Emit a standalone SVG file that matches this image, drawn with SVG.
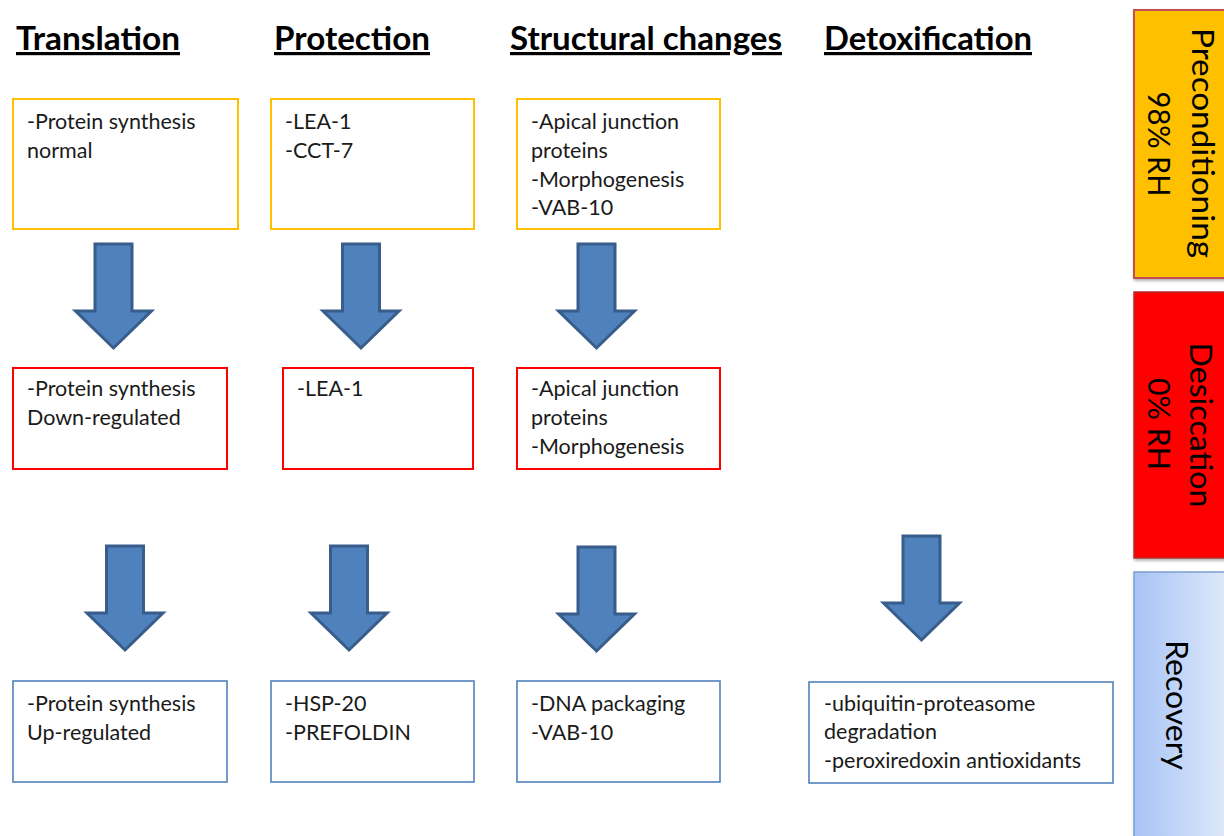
<svg xmlns="http://www.w3.org/2000/svg" width="1224" height="836" viewBox="0 0 1224 836">
  <style>
    .hdr { font-family: Lato, "Liberation Sans", sans-serif; font-weight: bold; font-size: 32px; fill: #000; text-decoration: underline; }
    .txt { font-family: Lato, "Liberation Sans", sans-serif; font-size: 21.5px; fill: #1a1a1a; }
    .side { font-family: Lato, "Liberation Sans", sans-serif; font-size: 31px; fill: #000; text-anchor: middle; }
    .box-pre { fill: #fff; stroke: #FFC000; stroke-width: 2; }
    .box-des { fill: #fff; stroke: #FF0000; stroke-width: 2; }
    .box-rec { fill: #fff; stroke: #4F81BD; stroke-width: 1.6; }
    .arrow { fill: #4F81BD; stroke: #385D8A; stroke-width: 3; stroke-linejoin: miter; }
  </style>
  <defs>
    <!-- block arrow: shaft 37 wide, 67 long; head 76 wide, 37 tall; origin at shaft top centre -->
    <path id="down-arrow" class="arrow" d="M -18.5 0 H 18.5 V 67 H 38 L 0 104 L -38 67 H -18.5 Z"/>
    <linearGradient id="recGrad" x1="0" y1="0" x2="1" y2="0">
      <stop offset="0" stop-color="#A7C3F5"/>
      <stop offset="1" stop-color="#E3ECFB"/>
    </linearGradient>
    <filter id="shadow" x="-10%" y="-10%" width="130%" height="130%">
      <feDropShadow dx="1" dy="2" stdDeviation="1.5" flood-color="#000" flood-opacity="0.3"/>
    </filter>
  </defs>

  <rect width="1224" height="836" fill="#fff"/>

  <!-- column headers -->
  <g id="headers">
    <text class="hdr" x="16" y="50" textLength="164" lengthAdjust="spacingAndGlyphs">Translation</text>
    <text class="hdr" x="274" y="50" textLength="156" lengthAdjust="spacingAndGlyphs">Protection</text>
    <text class="hdr" x="510" y="50" textLength="272" lengthAdjust="spacingAndGlyphs">Structural changes</text>
    <text class="hdr" x="824" y="50" textLength="208" lengthAdjust="spacingAndGlyphs">Detoxification</text>
  </g>

  <!-- stage bars on the right -->
  <g id="stage-preconditioning">
    <rect x="1134" y="10" width="100" height="268" fill="#FFC000" stroke="#C0504D" stroke-width="2" filter="url(#shadow)"/>
    <text class="side" transform="translate(1192,143) rotate(90)" textLength="230" lengthAdjust="spacingAndGlyphs">Preconditioning</text>
    <text class="side" transform="translate(1148,144) rotate(90)" textLength="105" lengthAdjust="spacingAndGlyphs">98% RH</text>
  </g>
  <g id="stage-desiccation">
    <rect x="1134" y="292" width="100" height="266" fill="#FF0000" stroke="#B03030" stroke-width="1.5" filter="url(#shadow)"/>
    <text class="side" transform="translate(1190,425) rotate(90)" textLength="165" lengthAdjust="spacingAndGlyphs">Desiccation</text>
    <text class="side" transform="translate(1148,424) rotate(90)" textLength="92" lengthAdjust="spacingAndGlyphs">0% RH</text>
  </g>
  <g id="stage-recovery">
    <rect x="1134" y="572" width="100" height="280" fill="url(#recGrad)" stroke="#7F9FD0" stroke-width="1.5" filter="url(#shadow)"/>
    <text class="side" transform="translate(1166,705) rotate(90)" textLength="130" lengthAdjust="spacingAndGlyphs">Recovery</text>
  </g>

  <!-- preconditioning row -->
  <g id="translation-pre">
    <rect class="box-pre" x="13" y="99" width="225" height="130"/>
    <text class="txt" x="27" y="129">-Protein synthesis</text>
    <text class="txt" x="27" y="158">normal</text>
  </g>
  <g id="protection-pre">
    <rect class="box-pre" x="271" y="99" width="203" height="130"/>
    <text class="txt" x="285" y="129">-LEA-1</text>
    <text class="txt" x="285" y="158">-CCT-7</text>
  </g>
  <g id="structural-pre">
    <rect class="box-pre" x="517" y="99" width="203" height="130"/>
    <text class="txt" x="531" y="129">-Apical junction</text>
    <text class="txt" x="531" y="158">proteins</text>
    <text class="txt" x="531" y="187">-Morphogenesis</text>
    <text class="txt" x="531" y="215">-VAB-10</text>
  </g>

  <!-- desiccation row -->
  <g id="translation-des">
    <rect class="box-des" x="13" y="368" width="214" height="101"/>
    <text class="txt" x="27" y="396">-Protein synthesis</text>
    <text class="txt" x="27" y="425">Down-regulated</text>
  </g>
  <g id="protection-des">
    <rect class="box-des" x="283" y="368" width="190" height="101"/>
    <text class="txt" x="297" y="396">-LEA-1</text>
  </g>
  <g id="structural-des">
    <rect class="box-des" x="517" y="368" width="203" height="101"/>
    <text class="txt" x="531" y="396">-Apical junction</text>
    <text class="txt" x="531" y="425">proteins</text>
    <text class="txt" x="531" y="454">-Morphogenesis</text>
  </g>

  <!-- recovery row -->
  <g id="translation-rec">
    <rect class="box-rec" x="13" y="681" width="214" height="101"/>
    <text class="txt" x="27" y="711">-Protein synthesis</text>
    <text class="txt" x="27" y="740">Up-regulated</text>
  </g>
  <g id="protection-rec">
    <rect class="box-rec" x="271" y="681" width="203" height="101"/>
    <text class="txt" x="285" y="711">-HSP-20</text>
    <text class="txt" x="285" y="740">-PREFOLDIN</text>
  </g>
  <g id="structural-rec">
    <rect class="box-rec" x="517" y="681" width="203" height="101"/>
    <text class="txt" x="531" y="711">-DNA packaging</text>
    <text class="txt" x="531" y="740">-VAB-10</text>
  </g>
  <g id="detox-rec">
    <rect class="box-rec" x="809" y="682" width="304" height="101"/>
    <text class="txt" x="824" y="711">-ubiquitin-proteasome</text>
    <text class="txt" x="824" y="739">degradation</text>
    <text class="txt" x="824" y="768">-peroxiredoxin antioxidants</text>
  </g>

  <!-- connectors: block arrows between stages -->
  <g id="connectors">
    <use href="#down-arrow" x="113.5" y="244"/>
    <use href="#down-arrow" x="361" y="244"/>
    <use href="#down-arrow" x="596.5" y="244"/>
    <use href="#down-arrow" x="125" y="546"/>
    <use href="#down-arrow" x="349" y="546"/>
    <use href="#down-arrow" x="596.5" y="547"/>
    <use href="#down-arrow" x="921.5" y="536"/>
  </g>
</svg>
